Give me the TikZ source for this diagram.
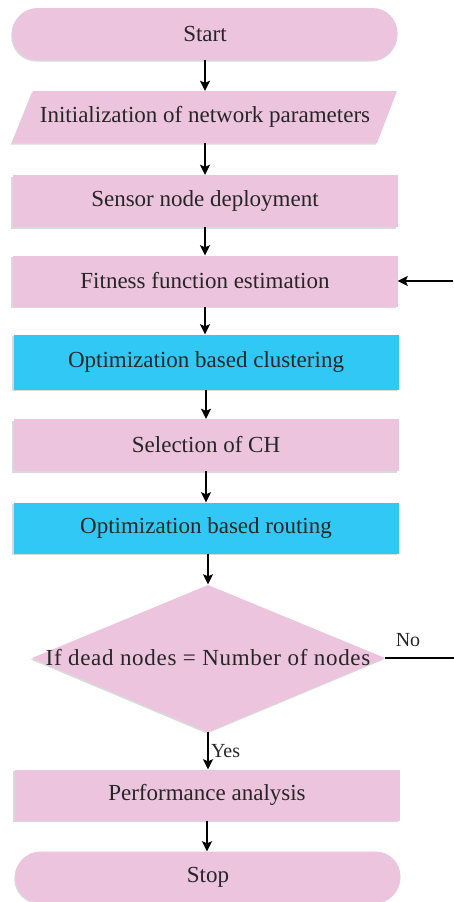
\documentclass[tikz,border=0pt]{standalone}
\usepackage{fontspec}
\setmainfont{Liberation Serif}
\usetikzlibrary{arrows.meta,shadows,calc}
\definecolor{pinkbox}{HTML}{ECC4DD}
\definecolor{bluebox}{HTML}{31C8F5}
\definecolor{txt}{HTML}{262626}
\begin{document}
\begin{tikzpicture}[x=1pt,y=-1pt,
  shad/.style={drop shadow={shadow xshift=-1.2pt,shadow yshift=-1.5pt,opacity=.25,fill=black!60}},
  box/.style={shape=rectangle,fill=pinkbox,minimum width=385pt,minimum height=52pt,inner sep=0pt,
    text=txt,font=\fontsize{23}{25}\selectfont,shad},
  bluebx/.style={box,fill=bluebox},
  term/.style={box,rounded corners=25pt},
  ghost/.style={shape=rectangle,minimum width=385pt,minimum height=52pt,inner sep=0pt,
    text=txt,font=\fontsize{23}{25}\selectfont},
  arr/.style={line width=2pt,-{Stealth[length=10pt,width=10pt,inset=2pt]}},
  lbl/.style={text=txt,font=\fontsize{20}{22}\selectfont,inner sep=0pt}
]
\useasboundingbox (0,0) rectangle (454,902);
\node[term] (start) at (205,34) {Start};
% parallelogram
\fill[pinkbox,shad] (33,91) -- (397,91) -- (377,143) -- (12,143) -- cycle;
\node[ghost] (init) at (205,117) {Initialization of network parameters};
\node[box] (sensor) at (205,201) {Sensor node deployment};
\node[box,minimum height=51pt] (fit) at (205,281) {Fitness function estimation};
\node[bluebx,minimum height=55pt,shad/.style={}] (clus) at (206,362) {Optimization based clustering};
\node[box] (sel) at (206,445) {Selection of CH};
\node[bluebx,minimum height=51pt,shad/.style={}] (rout) at (206,528) {Optimization based routing};
% diamond
\fill[pinkbox,shad] (208,585) -- (385,658) -- (208,732) -- (32,658) -- cycle;
\node[ghost,minimum width=353pt,minimum height=147pt,font=\fontsize{23}{25}\selectfont\addfontfeature{LetterSpace=3}] (dec) at (208,658) {If dead nodes = Number of nodes};
\node[box,minimum height=51pt] (perf) at (207,795) {Performance analysis};
\node[term,minimum height=51pt] (stop) at (208,877) {Stop};

\coordinate (noend) at (454,658);
\coordinate (fitin) at (453,281);

\draw[arr] (start.south) -- (start.south |- init.north);
\draw[arr] (init.south) -- (init.south |- sensor.north);
\draw[arr] (sensor.south) -- (sensor.south |- fit.north);
\draw[arr] (fit.south) -- (fit.south |- clus.north);
\draw[arr] (clus.south) -- (clus.south |- sel.north);
\draw[arr] (sel.south) -- (sel.south |- rout.north);
\draw[arr] (rout.south) ++(2,0) coordinate (r1) -- (r1 |- dec.north);
\draw[arr] (dec.south) -- (dec.south |- perf.north) node[midway,right=2pt,lbl,yshift=-1pt] {Yes};
\draw[arr] (perf.south) -- (perf.south |- stop.north);
\draw[line width=2pt] (dec.east) -- (noend);
\node[lbl] (no) at (408,640) {No};
\draw[arr] (fitin) -- (fit.east);
\end{tikzpicture}
\end{document}
